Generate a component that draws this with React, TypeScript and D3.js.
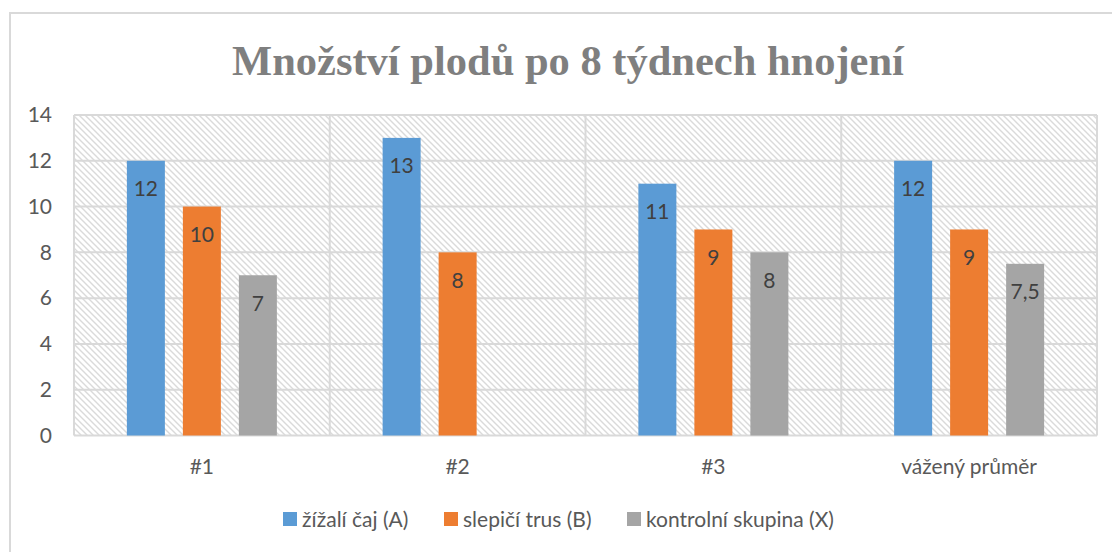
import React from "react";
import * as d3 from "d3";

const categories = ["#1", "#2", "#3", "vážený průměr"];
const seriesNames = ["žížalí čaj (A)", "slepičí trus (B)", "kontrolní skupina (X)"];
const seriesA = [12, 13, 11, 12];
const seriesB = [10, 8, 9, 9];
const seriesX: (number | null)[] = [7, null, 8, 7.5];
const yTicks = [0, 2, 4, 6, 8, 10, 12, 14];
const colors = ["#5b9bd5", "#ed7d31", "#a5a5a5"];
const title = "Množství plodů po 8 týdnech hnojení";

const W = 1112;
const H = 552;
const plot = { left: 74, right: 1097, top: 115, bottom: 435.5 };
const font = "Lato, 'Open Sans', sans-serif";
const fs = 21;

export default function App() {
  const seriesData = [seriesA, seriesB, seriesX];
  const x0 = d3.scaleBand<string>().domain(categories).range([plot.left, plot.right]).padding(0);
  const cw = x0.bandwidth();
  const groupW = 150;
  const x1 = d3
    .scaleBand<string>()
    .domain(seriesNames)
    .range([(cw - groupW) / 2, (cw + groupW) / 2])
    .paddingInner(18 / 56)
    .paddingOuter(0);
  const y = d3.scaleLinear().domain([0, 14]).range([plot.bottom, plot.top]);
  const fmt = (v: number) => String(v).replace(".", ",");

  const legendItems = [
    { x: 283, label: seriesNames[0] },
    { x: 444, label: seriesNames[1] },
    { x: 627, label: seriesNames[2] },
  ];

  return (
    <svg
      width={W}
      height={H}
      style={{ position: "absolute", left: 0, top: 0, background: "#fff" }}
    >
      <defs>
        <pattern id="hatch" patternUnits="userSpaceOnUse" width="6" height="6">
          <rect width="6" height="6" fill="#fff" />
          <path d="M0,0 L6,6 M-1,5 L1,7 M5,-1 L7,1" stroke="#dadada" strokeWidth="1.4" />
        </pattern>
      </defs>
      <rect x={10} y={13} width={1200} height={700} fill="#fff" stroke="#d9d9d9" strokeWidth={2} />
      <text
        x={568}
        y={75}
        textAnchor="middle"
        fontFamily="'Liberation Serif', 'Times New Roman', serif"
        fontWeight="bold"
        fontSize={42.5}
        fill="#7f7f7f"
      >
        {title}
      </text>
      <rect
        x={plot.left}
        y={plot.top}
        width={plot.right - plot.left}
        height={plot.bottom - plot.top}
        fill="url(#hatch)"
      />
      {yTicks.map((t) => (
        <line
          key={"g" + t}
          x1={plot.left}
          x2={plot.right}
          y1={y(t)}
          y2={y(t)}
          stroke="#d9d9d9"
          strokeWidth={2}
        />
      ))}
      {categories.map((c) => (
        <line
          key={"v" + c}
          x1={x0(c)!}
          x2={x0(c)!}
          y1={plot.top}
          y2={plot.bottom}
          stroke="#d9d9d9"
          strokeWidth={2}
        />
      ))}
      <line x1={plot.right} x2={plot.right} y1={plot.top} y2={plot.bottom} stroke="#d9d9d9" strokeWidth={2} />
      {yTicks.map((t) => (
        <text
          key={"t" + t}
          x={52}
          y={y(t)}
          dy="0.35em"
          textAnchor="end"
          fontFamily={font}
          fontSize={fs}
          fill="#595959"
        >
          {t}
        </text>
      ))}
      {categories.map((c, ci) => (
        <g key={"c" + c}>
          {seriesData.map((s, si) => {
            const v = s[ci];
            if (v === null || v === undefined) return null;
            const bx = x0(c)! + x1(seriesNames[si])!;
            const bw = x1.bandwidth();
            return (
              <g key={si}>
                <rect x={bx} y={y(v)} width={bw} height={y(0) - y(v)} fill={colors[si]} />
                <text
                  x={bx + bw / 2}
                  y={y(v) + 28}
                  dy="0.35em"
                  textAnchor="middle"
                  fontFamily={font}
                  fontSize={fs}
                  fill="#404040"
                >
                  {fmt(v)}
                </text>
              </g>
            );
          })}
          <text
            x={x0(c)! + cw / 2}
            y={467}
            dy="0.35em"
            textAnchor="middle"
            fontFamily={font}
            fontSize={fs}
            fill="#595959"
          >
            {c}
          </text>
        </g>
      ))}
      {legendItems.map((l, i) => (
        <g key={"l" + i}>
          <rect x={l.x} y={512} width={14} height={14} fill={colors[i]} />
          <text x={l.x + 19} y={520} dy="0.35em" fontFamily={font} fontSize={fs} fill="#595959">
            {l.label}
          </text>
        </g>
      ))}
    </svg>
  );
}
